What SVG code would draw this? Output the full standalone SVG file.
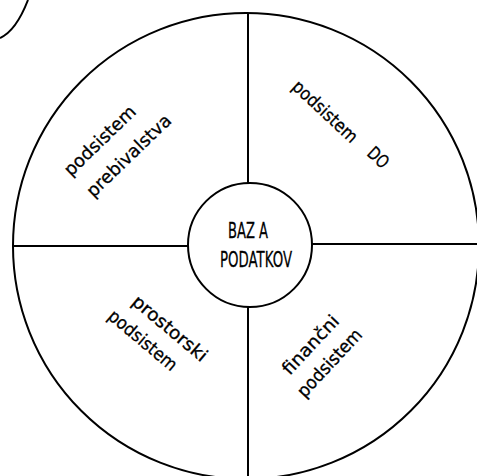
<svg xmlns="http://www.w3.org/2000/svg" width="477" height="476" viewBox="0 0 477 476">
<style>
.ln{fill:none;stroke:#000;stroke-width:2}
.lb{font-family:"DejaVu Sans","Liberation Sans",sans-serif;font-size:18px;fill:#000;stroke:#000;stroke-width:0.3}
.cap{font-family:"DejaVu Sans","Liberation Sans",sans-serif;font-size:22px;fill:#000;stroke:#000;stroke-width:0.3}
</style>
<rect width="477" height="476" fill="#fff"/>
<g id="outer">
<circle class="ln" cx="246" cy="246" r="233"/>
<path class="ln" d="M0 38 Q16 31 28 0"/>
</g>
<g id="connectors">
<line class="ln" x1="13" y1="246" x2="188" y2="246"/>
<line class="ln" x1="312" y1="244" x2="477" y2="244"/>
<line class="ln" x1="248" y1="13" x2="248" y2="183"/>
<line class="ln" x1="248" y1="307" x2="248" y2="476"/>
</g>
<g id="baza">
<circle class="ln" cx="250" cy="245" r="62"/>
<text class="cap" x="228" y="238" textLength="40" lengthAdjust="spacingAndGlyphs">BAZ A</text>
<text class="cap" x="220" y="267" textLength="72" lengthAdjust="spacingAndGlyphs">PODATKOV</text>
</g>
<g id="prebivalstvo">
<text class="lb" transform="translate(104,145) rotate(-44)" x="-46" textLength="92" lengthAdjust="spacingAndGlyphs">podsistem</text>
<text class="lb" transform="translate(133,160) rotate(-44)" x="-55" textLength="110" lengthAdjust="spacingAndGlyphs">prebivalstva</text>
</g>
<g id="do">
<text class="lb" transform="translate(321,116) rotate(43)" x="-41" textLength="82" lengthAdjust="spacingAndGlyphs">podsistem</text>
<text class="lb" transform="translate(374,162) rotate(43)" x="-11" textLength="22" lengthAdjust="spacingAndGlyphs">DO</text>
</g>
<g id="prostorski">
<text class="lb" transform="translate(166,333) rotate(40)" x="-46" textLength="92" lengthAdjust="spacingAndGlyphs">prostorski</text>
<text class="lb" transform="translate(139,345) rotate(40)" x="-42" textLength="84" lengthAdjust="spacingAndGlyphs">podsistem</text>
</g>
<g id="financni">
<text class="lb" transform="translate(315,349) rotate(-47)" x="-37" textLength="74" lengthAdjust="spacingAndGlyphs">finančni</text>
<text class="lb" transform="translate(334,367) rotate(-47)" x="-43" textLength="86" lengthAdjust="spacingAndGlyphs">podsistem</text>
</g>
</svg>
